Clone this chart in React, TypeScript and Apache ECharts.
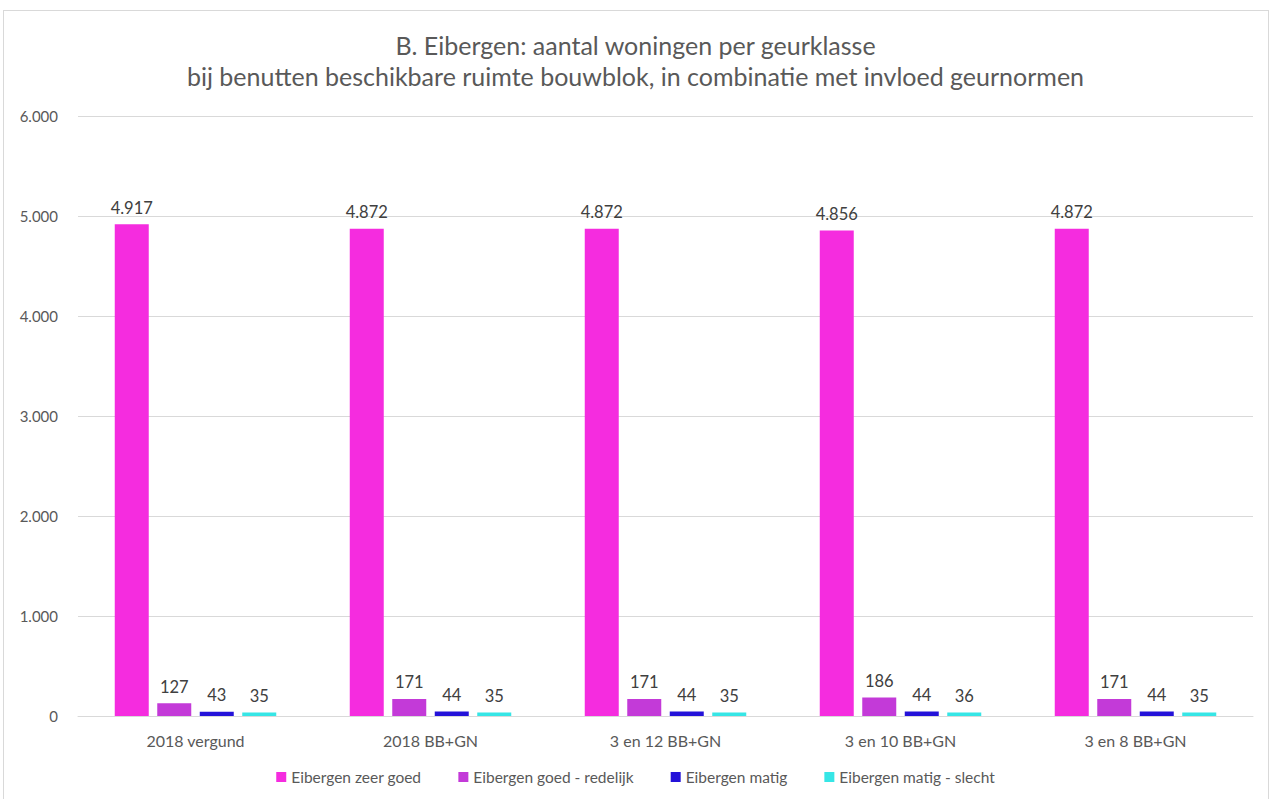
import React, { useEffect, useRef } from "react";
import * as echarts from "echarts";

const categories = ["2018 vergund", "2018 BB+GN", "3 en 12 BB+GN", "3 en 10 BB+GN", "3 en 8 BB+GN"];
const seriesNames = ["Eibergen zeer goed", "Eibergen goed - redelijk", "Eibergen matig", "Eibergen matig - slecht"];
const zeerGoed = [4917, 4872, 4872, 4856, 4872];
const goedRedelijk = [127, 171, 171, 186, 171];
const matig = [43, 44, 44, 44, 44];
const matigSlecht = [35, 35, 35, 36, 35];
const colors = ["#F52CDF", "#C33AD8", "#2412D9", "#36E6E6"];
const titleLines = [
  "B. Eibergen: aantal woningen per geurklasse",
  "bij benutten beschikbare ruimte bouwblok, in combinatie met invloed geurnormen",
];

const fmt = (v: number) => String(v).replace(/\B(?=(\d{3})+(?!\d))/g, ".");
const FONT = "Lato";

export default function App() {
  const ref = useRef<HTMLDivElement>(null);
  useEffect(() => {
    if (!ref.current) return;
    const chart = echarts.init(ref.current, undefined, { renderer: "svg" });
    const data = [zeerGoed, goedRedelijk, matig, matigSlecht];
    chart.setOption({
      animation: false,
      textStyle: { fontFamily: FONT },
      title: {
        text: titleLines.join("\n"),
        left: "center",
        top: 24,
        textStyle: { fontFamily: FONT, fontSize: 25, fontWeight: "normal", color: "#595959", lineHeight: 31 },
      },
      grid: { left: 78, right: 18, top: 116, bottom: 83, containLabel: false },
      legend: {
        bottom: 9,
        left: "center",
        itemWidth: 10,
        itemHeight: 10,
        itemGap: 37,
        icon: "rect",
        textStyle: { fontFamily: FONT, fontSize: 15.5, color: "#595959" },
        data: seriesNames,
      },
      xAxis: {
        type: "category",
        data: categories,
        axisLine: { lineStyle: { color: "#D9D9D9" } },
        axisTick: { show: false },
        axisLabel: { fontFamily: FONT, fontSize: 16, color: "#595959", margin: 16 },
      },
      yAxis: {
        type: "value",
        min: 0,
        max: 6000,
        interval: 1000,
        axisLine: { show: false },
        axisTick: { show: false },
        splitLine: { lineStyle: { color: "#D9D9D9" } },
        axisLabel: { fontFamily: FONT, fontSize: 15, color: "#595959", margin: 20, formatter: (v: number) => fmt(v) },
      },
      series: seriesNames.map((name, i) => ({
        name,
        type: "bar",
        data: data[i],
        barWidth: 34,
        barGap: "25%",
        itemStyle: { color: colors[i] },
        label: {
          show: true,
          position: "top",
          distance: 8,
          fontFamily: FONT,
          fontSize: 16.5,
          color: "#404040",
          formatter: (p: any) => fmt(p.value),
        },
      })),
    });
    return () => chart.dispose();
  }, []);
  return (
    <div style={{ position: "absolute", left: 0, top: 0, width: 1271, height: 799, background: "#fff" }}>
      <div ref={ref} style={{ position: "absolute", left: 0, top: 0, width: 1271, height: 799 }} />
      <div
        style={{
          position: "absolute",
          left: 3,
          top: 10,
          width: 1264,
          height: 800,
          border: "1px solid #D9D9D9",
          pointerEvents: "none",
        }}
      />
    </div>
  );
}
